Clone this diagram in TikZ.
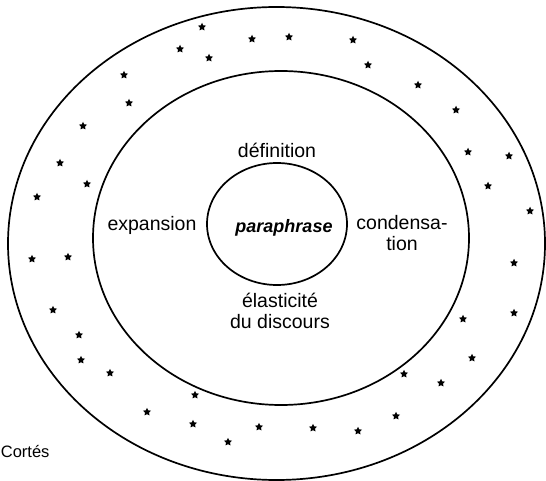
\documentclass[tikz,border=0pt]{standalone}
\usepackage{fontspec}
\setmainfont{Liberation Sans}
\usetikzlibrary{shapes.geometric}

\begin{document}
\begin{tikzpicture}
            [x=1pt, y=-1pt, line width=1.7pt,
             ring/.style={shape=ellipse, draw=black, inner sep=0pt},
             lbl/.style={align=center, inner sep=0pt, font=\fontsize{19.5}{20.5}\selectfont},
             etoile/.style={star, star points=5, star point ratio=2.0, fill=black, draw=none, inner sep=0pt, minimum size=8.5pt}]
            \useasboundingbox (0, 0) rectangle (546, 481);
            \node[ring, minimum width=537, minimum height=473] (outer) at (276.5, 243.5) {};
            \node[ring, minimum width=376, minimum height=334] (middle) at (281, 238) {};
            \node[ring, minimum width=140, minimum height=122] (inner) at (277, 224) {};

            \node[lbl, font=\fontsize{18}{18}\selectfont\bfseries\itshape] (para) at (284, 228) {paraphrase};
            \node[lbl] (defin) at (277, 150) {définition};
            \node[lbl] (expan) at (152, 225) {expansion};
            \node[lbl] (conden) at (402, 233) {condensa-\\tion};
            \node[lbl] (elast) at (280, 311) {élasticité\\du discours};
            \node[lbl, anchor=west, font=\fontsize{16.5}{18}\selectfont] (cortes) at (0, 452) {Cortés};

            % the stars in the outer ring
            \foreach \sx/\sy [count=\i] in {202/27, 252/39, 289/37, 353/40, 180/49, 209/58, 368/65,
                124/75, 418/85, 129/103, 456/110, 83/126, 468/152, 509/156, 60/163, 87/184,
                488/186, 37/197, 530/211, 32/259, 68/257, 514/263, 53/310, 514/313, 463/319,
                79/335, 81/360, 472/358, 110/373, 404/374, 441/383, 195/395, 147/412, 396/416,
                193/424, 259/427, 313/428, 358/431, 228/442}
                \node[etoile] (s\i) at (\sx, \sy) {};
        \end{tikzpicture}
\end{document}
